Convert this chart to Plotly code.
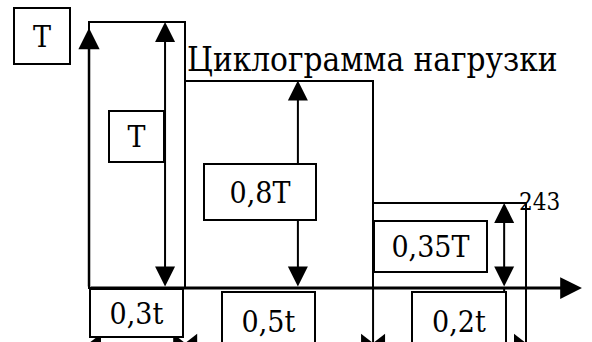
import numpy as np
import plotly.graph_objects as go

# ---------------- data ----------------
segment_labels = ["0,3t", "0,5t", "0,2t"]       # duration labels
load_labels = ["T", "0,8T", "0,35T"]            # load labels
drawn_widths = [0.22, 0.43, 0.35]               # drawn bar widths (share of drawn cycle)
drawn_loads = [1.0, 0.78, 0.32]                 # drawn bar heights (share of T)
title_text = "Циклограмма нагрузки"
axis_label = "T"
corner_number = "243"

# ---------------- layout constants ----------------
FONT = "DejaVu Serif Condensed, DejaVu Serif"
W, H = 592, 342
x_range = [-0.2037, 1.1510]
y_range = [-0.2030, 1.0827]
arrow_x = [0.174, 0.478, 0.950]                 # double arrows inside bars
load_box = [  # (x, y, w, h) in axis units / px
    (0.1087, 0.5695, 53, 49),
    (0.3913, 0.3610, 110, 54),
    (0.7815, 0.1560, 111, 49),
]
seg_box = [
    (0.1087, -0.0940, 91, 46),
    (0.4108, -0.1230, 91, 56),
    (0.8467, -0.1230, 92, 56),
]

edges = np.concatenate([[0.0], np.cumsum(drawn_widths)])
centers = (edges[:-1] + edges[1:]) / 2

fig = go.Figure()
fig.add_trace(go.Bar(
    x=centers, y=drawn_loads, width=drawn_widths, base=0,
    marker=dict(color="white", line=dict(color="black", width=2)),
    hoverinfo="skip", showlegend=False,
))

# dimension arrowheads under the segments (partly cut by the bottom edge)
dim_y = -0.207
off = 8 / 437
tri_x, tri_sym = [], []
for i in range(3):
    tri_x += [edges[i] + off, edges[i + 1] - off]
    tri_sym += ["triangle-left", "triangle-right"]
fig.add_trace(go.Scatter(
    x=tri_x, y=[dim_y] * len(tri_x), mode="markers",
    marker=dict(symbol=tri_sym, size=16, color="black"),
    cliponaxis=True, hoverinfo="skip", showlegend=False,
))

shapes = []
for e in edges[2:]:
    shapes.append(dict(type="line", x0=e, x1=e, y0=0, y1=-0.3,
                       line=dict(color="black", width=2), layer="above"))
shapes.append(dict(type="line", x0=arrow_x[2], x1=arrow_x[2], y0=0, y1=-0.3,
                   line=dict(color="black", width=2), layer="above"))

ann = []
ann.append(dict(x=0, y=0.977, ax=0, ay=0, xref="x", yref="y", axref="x", ayref="y",
                text="", showarrow=True, arrowhead=2, arrowsize=1.7, arrowwidth=2.5,
                arrowcolor="black"))
ann.append(dict(x=1.128, y=0, ax=0, ay=0, xref="x", yref="y", axref="x", ayref="y",
                text="", showarrow=True, arrowhead=2, arrowsize=1.45, arrowwidth=3,
                arrowcolor="black"))
for xa, ld in zip(arrow_x, drawn_loads):
    ann.append(dict(x=xa, y=ld, ax=xa, ay=0, xref="x", yref="y", axref="x", ayref="y",
                    text="", showarrow=True, arrowhead=2, arrowsize=2.0, arrowwidth=2,
                    startarrowhead=2, startarrowsize=2.0, arrowside="end+start",
                    arrowcolor="black"))

def box(x, y, w, h, text, size):
    return dict(x=x, y=y, xref="x", yref="y", text=text, showarrow=False,
                width=w, height=h, bordercolor="black", borderwidth=2, borderpad=0,
                bgcolor="white", xanchor="center", yanchor="middle", align="center",
                valign="middle", font=dict(family=FONT, size=size, color="black"))

for (x, y, w, h), t in zip(load_box, load_labels):
    ann.append(box(x, y, w, h, t, 30))
for (x, y, w, h), t in zip(seg_box, segment_labels):
    ann.append(box(x, y, w, h, t, 30))
ann.append(box(-0.1076, 0.947, 54, 54, axis_label, 30))
ann.append(dict(x=0.6476, y=0.858, xref="x", yref="y", text=title_text, showarrow=False,
                xanchor="center", yanchor="middle",
                font=dict(family=FONT, size=33, color="black")))
ann.append(dict(x=1.031, y=0.325, xref="x", yref="y", text=corner_number, showarrow=False,
                xanchor="center", yanchor="middle",
                font=dict(family=FONT, size=24, color="black")))

fig.update_layout(
    width=W, height=H, margin=dict(l=0, r=0, t=0, b=0),
    paper_bgcolor="white", plot_bgcolor="white",
    xaxis=dict(range=x_range, visible=False, fixedrange=True),
    yaxis=dict(range=y_range, visible=False, fixedrange=True),
    shapes=shapes, annotations=ann, bargap=0, showlegend=False,
)
fig.write_html("out.html", config={"displayModeBar": False},
               post_script="document.body.style.margin='0px';document.body.style.overflow='hidden';")
